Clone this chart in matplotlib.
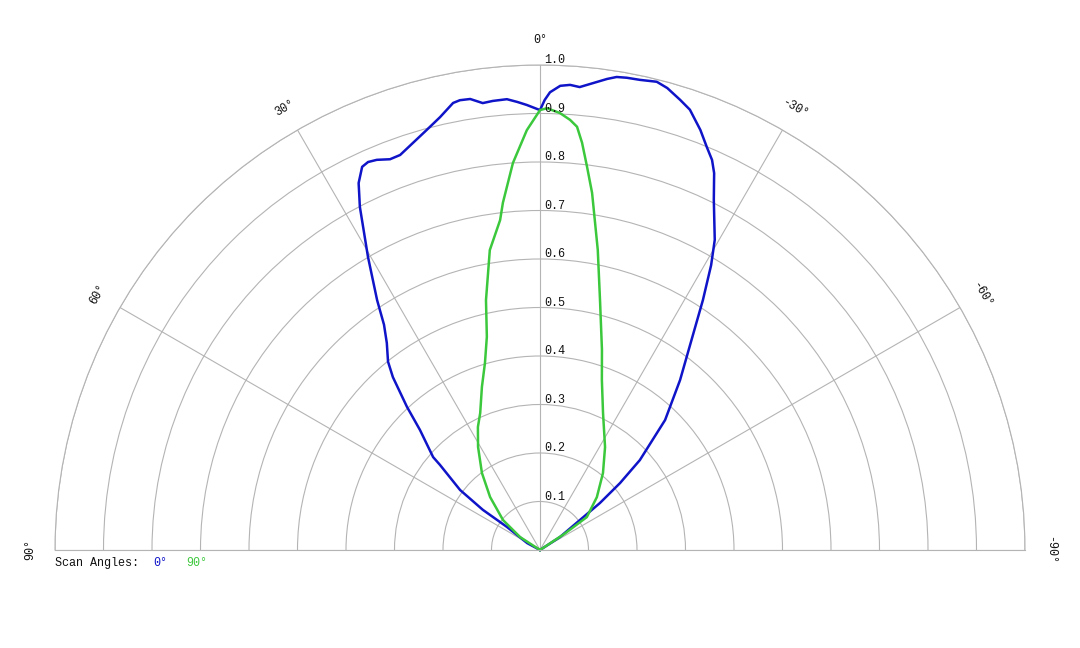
import numpy as np
import matplotlib
matplotlib.use("Agg")
import matplotlib.pyplot as plt

# Polar intensity curves, angle in degrees (0 = up, positive to the left)
blue_theta = [90, 65, 61.7, 55.1, 54.9, 53.1, 49.6, 49.0, 45.0, 42.9, 40.4, 38.9, 36.5,
              34.7, 33.1, 30.4, 27.7, 26.3, 24.9, 23.9, 22.7, 21.0, 19.5, 15.1, 13.0,
              11.0, 10.1, 8.8, 7.3, 6.0, 4.2, 2.9, 1.7, 0.0, -0.6, -1.25, -2.5, -3.7,
              -4.9, -6.5, -8.1, -9.2, -10.4, -12.0, -14.0, -15.4, -17.3, -18.8, -20.9,
              -22.5, -23.8, -24.8, -26.4, -29.4, -31.0, -33.1, -36.2, -39.5, -43.9,
              -48.0, -50.1, -51.9, -53.1, -57.0, -60, -90]
blue_r = [0, 0, 0.030, 0.083, 0.144, 0.206, 0.271, 0.292, 0.350, 0.403, 0.468, 0.499, 0.531,
          0.565, 0.615, 0.701, 0.799, 0.844, 0.871, 0.875, 0.872, 0.863, 0.864, 0.897, 0.916,
          0.939, 0.942, 0.941, 0.929, 0.931, 0.932, 0.925, 0.918, 0.907, 0.928, 0.944, 0.958,
          0.961, 0.958, 0.969, 0.981, 0.988, 0.990, 0.991, 0.995, 0.988, 0.972, 0.959, 0.927,
          0.899, 0.879, 0.856, 0.806, 0.734, 0.685, 0.615, 0.524, 0.454, 0.372, 0.277,
          0.215, 0.157, 0.103, 0.049, 0, 0]

green_theta = [90, 60, 57.0, 51.0, 43.3, 37.0, 31.0, 26.8, 23.6, 19.6, 16.4, 14.0, 12.2, 9.5,
               6.9, 6.1, 4.0, 1.8, 0.0, -0.9, -2.6, -4.0, -5.0, -5.9, -7.0, -8.3, -10.9,
               -13.5, -17.2, -20.0, -24.7, -32.3, -39.3, -47.1, -54.9, -56.5, -58, -90]
green_r = [0, 0, 0.049, 0.098, 0.150, 0.199, 0.248, 0.284, 0.308, 0.357, 0.402, 0.453, 0.527,
           0.627, 0.685, 0.720, 0.800, 0.866, 0.907, 0.911, 0.902, 0.889, 0.876, 0.844, 0.796,
           0.744, 0.630, 0.530, 0.432, 0.373, 0.311, 0.251, 0.205, 0.160, 0.118, 0.06, 0, 0]

ring_values = [0.1, 0.2, 0.3, 0.4, 0.5, 0.6, 0.7, 0.8, 0.9, 1.0]
spoke_angles = [-90, -60, -30, 0, 30, 60, 90]

BLUE = "#0f14c8"
GREEN = "#3cc83c"
GRID = "#b4b4b4"
MONO = "Liberation Mono"

fig = plt.figure(figsize=(10.8, 6.48), dpi=100)
# polar axes keeps a square box; the half disc sits in its middle
# half disc: x 55..1025, y 65..550 (pixels from top)
box = 970
top = (65 + 550) / 2 - box / 2
ax = fig.add_axes([55 / 1080, (648 - top - box) / 648, box / 1080, box / 648],
                  projection="polar")
ax.set_theta_zero_location("N")
ax.set_theta_direction(1)
ax.set_thetamin(-90)
ax.set_thetamax(90)
ax.set_rlim(0, 1.0)

ax.set_rgrids(ring_values, labels=[""] * len(ring_values))
ax.set_thetagrids(spoke_angles, labels=[""] * len(spoke_angles))
ax.grid(True, color=GRID, linewidth=0.8)
for sp in ax.spines.values():
    sp.set_color(GRID)
    sp.set_linewidth(0.8)
ax.tick_params(length=0)

ax.plot(np.deg2rad(blue_theta), blue_r, color=BLUE, linewidth=1.8,
        solid_joinstyle="round", clip_on=False)
ax.plot(np.deg2rad(green_theta), green_r, color=GREEN, linewidth=1.8,
        solid_joinstyle="round", clip_on=False)

# radial labels just right of the 0 deg spoke
for r in ring_values:
    ax.annotate(f"{r:.1f}", xy=(0, r), xytext=(3, -1), textcoords="offset points",
                ha="left", va="bottom", family=MONO, fontsize=8.5, color="#111111")

# angle labels, rotated along their spoke
for a in spoke_angles:
    lab = f"{a}\u00b0"
    ax.text(np.deg2rad(a), 1.052, lab, rotation=a, rotation_mode="anchor",
            ha="center", va="center", family=MONO, fontsize=8.5, color="#111111")

# legend line
fig.text(55 / 1080, 1 - 563 / 648, "Scan Angles:", family=MONO, fontsize=8.5,
         color="#111111", va="center", ha="left")
fig.text(153 / 1080, 1 - 563 / 648, "0\u00b0", family=MONO, fontsize=8.5,
         color=BLUE, va="center", ha="left")
fig.text(186 / 1080, 1 - 563 / 648, "90\u00b0", family=MONO, fontsize=8.5,
         color=GREEN, va="center", ha="left")

fig.savefig("out.png", dpi=100, facecolor="white")
